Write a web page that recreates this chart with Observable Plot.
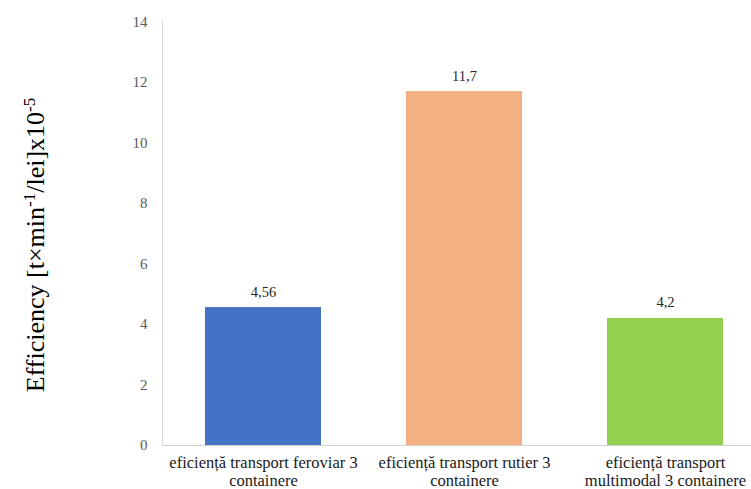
<!DOCTYPE html>
<html>
<head>
<meta charset="utf-8">
<script src="https://cdn.jsdelivr.net/npm/d3@7"></script>
<script src="https://cdn.jsdelivr.net/npm/@observablehq/plot@0.6"></script>
<style>
  html, body { margin: 0; padding: 0; background: #fff; }
  #chart { position: relative; width: 751px; height: 489px; }
</style>
</head>
<body>
<div id="chart"></div>
<script>
// Transport modes compared and their efficiency values
const categories = [
  "eficiență transport feroviar 3 containere",
  "eficiență transport rutier 3 containere",
  "eficiență transport multimodal 3 containere"
];
const tickLabels = [
  "eficiență transport feroviar 3\ncontainere",
  "eficiență transport rutier 3\ncontainere",
  "eficiență transport\nmultimodal 3 containere"
];
const values = [4.56, 11.7, 4.2];
const valueLabels = ["4,56", "11,7", "4,2"];
const colors = ["#4472C4", "#F4B183", "#92D050"];
const yTicks = [0, 2, 4, 6, 8, 10, 12, 14];

const data = categories.map((c, i) => ({cat: c, value: values[i], label: valueLabels[i], color: colors[i]}));
const labelOf = new Map(categories.map((c, i) => [c, tickLabels[i]]));

const serif = "Liberation Serif, Times New Roman, serif";

const chart = Plot.plot({
  width: 751,
  height: 489,
  marginLeft: 162,
  marginRight: 0,
  marginTop: 21.5,
  marginBottom: 44,
  style: {fontFamily: serif, background: "#fff"},
  x: {domain: categories, range: [162, 765], paddingInner: 0.425, paddingOuter: 0.2125, align: 0.5},
  y: {domain: [0, 14]},
  marks: [
    Plot.barY(data, {x: "cat", y: "value", fill: "color"}),
    Plot.ruleY([0], {stroke: "#d0d0d0", strokeWidth: 1}),
    Plot.frame({anchor: "left", stroke: "#d9d9d9"}),
    Plot.axisY({
      ticks: yTicks,
      tickSize: 0,
      tickPadding: 15,
      tickFormat: d => String(d),
      fontFamily: serif,
      fontSize: 15,
      fill: "#595959",
      label: null
    }),
    Plot.axisX({
      tickSize: 0,
      tickPadding: 10,
      tickFormat: d => labelOf.get(d),
      fontFamily: serif,
      fontSize: 16.5,
      lineHeight: 1.08,
      fill: "#1a1a1a",
      label: null
    }),
    Plot.text(data, {
      x: "cat",
      y: "value",
      text: "label",
      dy: -11,
      lineAnchor: "bottom",
      fontFamily: serif,
      fontSize: 14.5,
      fill: "#262626"
    })
  ]
});

// Rotated y-axis title with superscript exponents
const svg = d3.select(chart);
const title = svg.append("text")
  .attr("transform", "translate(44,245) rotate(-90)")
  .attr("text-anchor", "middle")
  .attr("font-family", serif)
  .attr("font-size", 26)
  .attr("fill", "#000");
title.append("tspan").text("Efficiency [t×min");
title.append("tspan").attr("baseline-shift", "super").attr("font-size", 17).text("-1");
title.append("tspan").text("/lei]x10");
title.append("tspan").attr("baseline-shift", "super").attr("font-size", 17).text("-5");

document.getElementById("chart").append(chart);
</script>
</body>
</html>
